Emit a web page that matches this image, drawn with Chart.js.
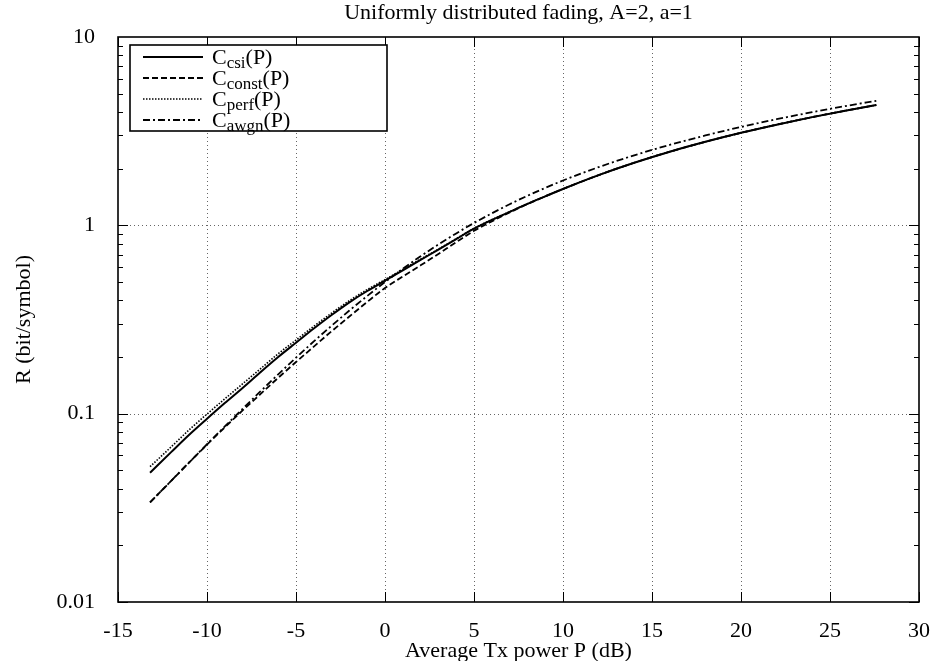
<!DOCTYPE html>
<html>
<head>
<meta charset="utf-8">
<script src="https://cdn.jsdelivr.net/npm/chart.js@4/dist/chart.umd.min.js"></script>
<style>
html,body{margin:0;padding:0;background:#fff;}
#wrap{width:938px;height:661px;position:relative;}
</style>
</head>
<body>
<div id="wrap"><canvas id="c" width="938" height="661"></canvas></div>
<script>
const chartTitle = 'Uniformly distributed fading, A=2, a=1';
const xAxisTitle = 'Average Tx power P (dB)';
const yAxisTitle = 'R (bit/symbol)';
const xTickValues = [-15,-10,-5,0,5,10,15,20,25,30];
const yTickValues = [0.01,0.1,1,10];
const yTickLabels = ['0.01','0.1','1','10'];
const seriesBase = ['C','C','C','C'];
const seriesSub = ['csi','const','perf','awgn'];
const seriesTail = ['(P)','(P)','(P)','(P)'];

const powerDb = [-13.2,-12,-11,-10,-9,-8,-7,-6,-5,-4,-3,-2,-1,0,1,2,3,4,5,6,7,8,9,10,12,14,16,18,20,22,24,26,27.6];
const cCsi   = [0.0486,0.0627,0.0773,0.094,0.1138,0.137,0.166,0.200,0.238,0.283,0.334,0.390,0.448,0.508,0.577,0.655,0.743,0.845,0.960,1.068,1.179,1.300,1.425,1.560,1.847,2.149,2.460,2.776,3.099,3.424,3.754,4.085,4.350];
const cConst = [0.0338,0.0441,0.0551,0.0685,0.0846,0.104,0.127,0.155,0.188,0.227,0.274,0.328,0.392,0.465,0.535,0.613,0.705,0.814,0.935,1.050,1.170,1.296,1.425,1.560,1.847,2.149,2.460,2.776,3.099,3.424,3.754,4.085,4.350];
const cPerf  = [0.0523,0.0668,0.0821,0.0995,0.1198,0.144,0.173,0.208,0.246,0.291,0.342,0.398,0.456,0.515,0.583,0.661,0.748,0.849,0.964,1.071,1.181,1.301,1.425,1.560,1.847,2.149,2.460,2.776,3.099,3.424,3.754,4.085,4.350];
const cAwgn  = [0.0338,0.0441,0.0551,0.0688,0.0855,0.1061,0.1312,0.1617,0.1982,0.2418,0.2930,0.3529,0.4217,0.500,0.5879,0.6851,0.7914,0.9061,1.029,1.158,1.294,1.435,1.580,1.730,2.037,2.354,2.675,3.001,3.329,3.659,3.989,4.320,4.585];

const FONT = "'Liberation Serif','Times New Roman',serif";
const dashes = [[], [6,3], [1.5,1.5], [7,3,2,3]];
const widths = [2, 1.8, 1.6, 1.8];
const seriesVals = [cCsi, cConst, cPerf, cAwgn];

function pts(arr){ return powerDb.map((x,i)=>({x:x, y:arr[i]})); }

const datasets = seriesVals.map((arr,i)=>({
  label: seriesBase[i]+seriesSub[i]+seriesTail[i],
  data: pts(arr),
  borderColor:'#000',
  borderWidth: widths[i],
  borderDash: dashes[i],
  pointRadius:0,
  fill:false,
  cubicInterpolationMode:'monotone'
}));

const decorPlugin = {
  id:'decor',
  beforeDatasetsDraw(chart){
    const {ctx, chartArea:a, scales:{x,y}} = chart;
    ctx.save();
    ctx.strokeStyle='#666'; ctx.lineWidth=1; ctx.setLineDash([1,3]);
    xTickValues.forEach(v=>{
      if (v<=-15 || v>=30) return;
      const px=Math.round(x.getPixelForValue(v))+0.5;
      ctx.beginPath(); ctx.moveTo(px,a.top); ctx.lineTo(px,a.bottom); ctx.stroke();
    });
    [0.1,1].forEach(v=>{
      const py=Math.round(y.getPixelForValue(v))+0.5;
      ctx.beginPath(); ctx.moveTo(a.left,py); ctx.lineTo(a.right,py); ctx.stroke();
    });
    ctx.setLineDash([]);
    ctx.strokeStyle='#000'; ctx.lineWidth=1;
    xTickValues.forEach(v=>{
      const px=Math.round(x.getPixelForValue(v))+0.5;
      ctx.beginPath(); ctx.moveTo(px,a.bottom); ctx.lineTo(px,a.bottom-10);
      ctx.moveTo(px,a.top); ctx.lineTo(px,a.top+10); ctx.stroke();
    });
    [0.01,0.1,1].forEach(d=>{
      for(let m=1;m<=9;m++){
        const py=Math.round(y.getPixelForValue(d*m))+0.5;
        const len = m===1?10:5;
        ctx.beginPath(); ctx.moveTo(a.left,py); ctx.lineTo(a.left+len,py);
        ctx.moveTo(a.right,py); ctx.lineTo(a.right-len,py); ctx.stroke();
      }
    });
    ctx.restore();
  },
  afterDatasetsDraw(chart){
    const {ctx, chartArea:a} = chart;
    ctx.save();
    ctx.strokeStyle='#000'; ctx.lineWidth=1.6;
    ctx.strokeRect(a.left, a.top, a.right-a.left, a.bottom-a.top);
    const lx=a.left+12, ly=a.top+8, lw=257, lh=86;
    ctx.fillStyle='#fff'; ctx.fillRect(lx,ly,lw,lh);
    ctx.lineWidth=1.6; ctx.strokeRect(lx,ly,lw,lh);
    ctx.fillStyle='#000';
    for(let i=0;i<4;i++){
      const ry = ly + 12 + i*21;
      ctx.beginPath(); ctx.setLineDash(dashes[i]); ctx.lineWidth=widths[i];
      ctx.moveTo(lx+13, ry); ctx.lineTo(lx+73, ry); ctx.stroke();
      ctx.setLineDash([]);
      ctx.textBaseline='alphabetic'; ctx.textAlign='left';
      let tx = lx+82;
      const base = ry+7;
      ctx.font = '22px '+FONT;
      ctx.fillText(seriesBase[i], tx, base); tx += ctx.measureText(seriesBase[i]).width;
      ctx.font = '17px '+FONT;
      ctx.fillText(seriesSub[i], tx, base+4); tx += ctx.measureText(seriesSub[i]).width;
      ctx.font = '22px '+FONT;
      ctx.fillText(seriesTail[i], tx, base);
    }
    ctx.restore();
  },
  afterDraw(chart){
    const {ctx, chartArea:a} = chart;
    ctx.save();
    ctx.fillStyle='#000';
    ctx.font='22px '+FONT; ctx.textAlign='center'; ctx.textBaseline='alphabetic';
    ctx.fillText(chartTitle, (a.left+a.right)/2, 19);
    ctx.fillText(xAxisTitle, (a.left+a.right)/2, 657);
    ctx.translate(30, (a.top+a.bottom)/2);
    ctx.rotate(-Math.PI/2);
    ctx.fillText(yAxisTitle, 0, 0);
    ctx.restore();
  }
};

new Chart(document.getElementById('c'), {
  type:'line',
  data:{datasets},
  options:{
    responsive:false,
    animation:false,
    layout:{padding:{top:37,right:14,left:0,bottom:0}},
    plugins:{legend:{display:false}, title:{display:false}, tooltip:{enabled:false}},
    scales:{
      x:{
        type:'linear', min:-15, max:30,
        grid:{display:false}, border:{display:false},
        afterBuildTicks(s){ s.ticks = xTickValues.map(v=>({value:v})); },
        afterFit(s){ s.height = 59; },
        ticks:{color:'#000', font:{family:FONT,size:22}, padding:8, maxRotation:0, autoSkip:false,
          callback:(v)=>String(v)}
      },
      y:{
        type:'logarithmic', min:0.01, max:10,
        grid:{display:false}, border:{display:false},
        afterBuildTicks(s){ s.ticks = yTickValues.map(v=>({value:v})); },
        afterFit(s){ s.width = 118; },
        ticks:{color:'#000', font:{family:FONT,size:22}, padding:15, autoSkip:false,
          callback:(v)=>{ const i=yTickValues.findIndex(t=>Math.abs(t-v)/t<1e-6); return i>=0?yTickLabels[i]:''; }}
      }
    }
  },
  plugins:[decorPlugin]
});
</script>
</body>
</html>
